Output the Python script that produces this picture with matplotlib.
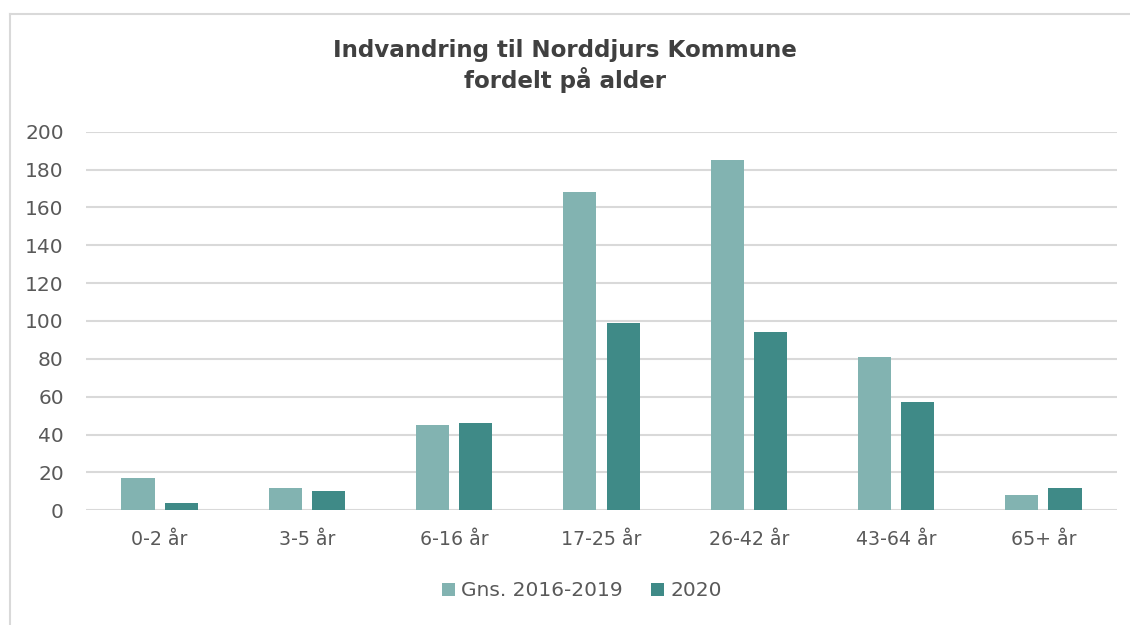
import numpy as np
import matplotlib
matplotlib.use('Agg')
import matplotlib.pyplot as plt
from matplotlib.lines import Line2D

# Indvandring til Norddjurs Kommune fordelt på alder
categories = ['0-2 år', '3-5 år', '6-16 år', '17-25 år', '26-42 år', '43-64 år', '65+ år']
avg_2016_2019 = [17, 12, 45, 168, 185, 81, 8]
year_2020 = [4, 10, 46, 99, 94, 57, 12]
yticks = [0, 20, 40, 60, 80, 100, 120, 140, 160, 180, 200]

light = '#82B3B1'
dark = '#3F8A87'
text_col = '#595959'

plt.rcParams['font.family'] = ['DejaVu Sans']

W, H = 1130, 625
fig = plt.figure(figsize=(W / 100, H / 100), dpi=100)
ax = fig.add_axes([86 / W, 1 - 510.3 / H, (1117 - 86) / W, (510.3 - 131.7) / H])

x = np.arange(len(categories))
bw = 0.225
off = 0.147
ax.bar(x - off, avg_2016_2019, width=bw, color=light, label='Gns. 2016-2019', zorder=3)
ax.bar(x + off, year_2020, width=bw, color=dark, label='2020', zorder=3)

ax.set_xlim(-0.5, len(categories) - 0.5)
ax.set_ylim(0, 200)
ax.set_yticks(yticks)
ax.set_xticks(x)
ax.set_xticklabels(categories)
ax.grid(axis='y', color='#D9D9D9', linewidth=1.5, zorder=0)
for s in ax.spines.values():
    s.set_visible(False)
ax.tick_params(length=0, colors=text_col)
ax.tick_params(axis='x', pad=14, labelsize=13.7)
ax.tick_params(axis='y', pad=16, labelsize=14.5)

fig.text(0.5, 1 - 66 / H, 'Indvandring til Norddjurs Kommune\nfordelt på alder',
         ha='center', va='center', fontsize=16.6, fontweight='bold', color='#404040',
         linespacing=1.25)

fig.legend(loc='center', bbox_to_anchor=(0.515, 1 - 591 / H), ncol=2, frameon=False,
           fontsize=14.5, labelcolor=text_col, handlelength=0.65, handleheight=0.65,
           handletextpad=0.3, columnspacing=1.4)

# outer chart border (left and top only)
fig.add_artist(Line2D([9.5 / W, 9.5 / W], [0, 1 - 14 / H], transform=fig.transFigure,
                      color='#D9D9D9', linewidth=1.5))
fig.add_artist(Line2D([9.5 / W, 1], [1 - 14 / H, 1 - 14 / H], transform=fig.transFigure,
                      color='#D9D9D9', linewidth=1.5))

fig.savefig('out.png', dpi=100)
